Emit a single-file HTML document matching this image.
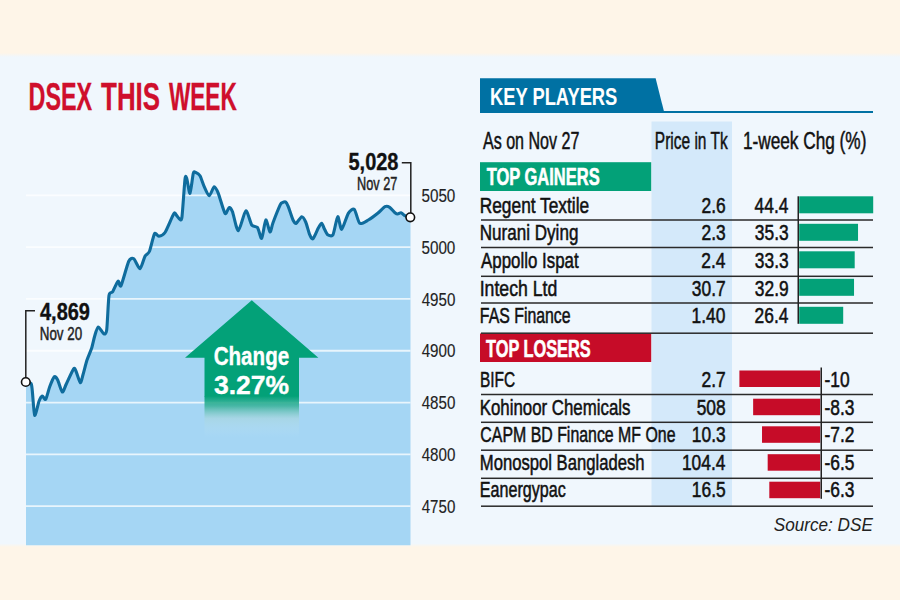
<!DOCTYPE html>
<html><head><meta charset="utf-8"><style>
html,body{margin:0;padding:0;width:900px;height:600px;overflow:hidden;background:#f0f7fd}
svg{display:block}
text{font-family:"Liberation Sans",sans-serif}
</style></head><body>
<svg width="900" height="600" viewBox="0 0 900 600">
<rect x="0" y="0" width="900" height="600" fill="#f0f7fd"/>
<defs><linearGradient id="tb" x1="0" y1="0" x2="0" y2="1"><stop offset="0" stop-color="#fef5e8"/><stop offset="1" stop-color="#f0f7fd"/></linearGradient><linearGradient id="bb" x1="0" y1="0" x2="0" y2="1"><stop offset="0" stop-color="#f0f7fd"/><stop offset="1" stop-color="#fef5e8"/></linearGradient></defs>
<rect x="0" y="0" width="900" height="53" fill="#fef5e8"/>
<rect x="0" y="53" width="900" height="4" fill="url(#tb)"/>
<rect x="0" y="543.5" width="900" height="3.5" fill="url(#bb)"/>
<rect x="0" y="547" width="900" height="53" fill="#fef5e8"/>
<path d="M26,382 C26.60,382.16 30.24,382.26 31,383.3 C31.76,384.34 31.86,386.86 32.3,390.7 C32.74,394.54 33.90,414.03 34.7,415.3 C35.50,416.57 38.09,403.62 39,401.3 C39.91,398.98 41.50,396.24 42.3,396 C43.10,395.76 44.81,400.42 45.7,399.3 C46.59,398.18 48.67,389.41 49.7,386.7 C50.73,383.99 53.34,377.50 54.3,376.7 C55.26,375.90 56.74,378.16 57.7,380 C58.66,381.84 61.27,391.52 62.3,392 C63.33,392.48 64.93,386.80 66.3,384 C67.67,381.20 72.50,370.14 73.7,368.7 C74.90,367.26 75.51,370.32 76.3,372 C77.09,373.68 79.50,382.38 80.3,382.7 C81.10,383.02 82.20,377.42 83,374.7 C83.80,371.98 85.96,363.20 87,360 C88.04,356.80 90.78,350.88 91.7,348 C92.62,345.12 93.92,338.52 94.7,336 C95.48,333.48 97.12,327.28 98.2,327 C99.28,326.72 102.68,333.34 103.7,333.7 C104.72,334.06 106.06,334.58 106.7,330 C107.34,325.42 108.28,300.10 109,295.5 C109.72,290.90 111.62,293.42 112.7,291.7 C113.78,289.98 117.00,281.92 118,281.2 C119.00,280.48 119.71,288.09 121,285.7 C122.29,283.31 127.22,264.48 128.75,261.25 C130.28,258.02 132.40,257.85 133.75,258.75 C135.10,259.65 138.65,269.05 140,268.75 C141.35,268.45 143.86,258.35 145,256.25 C146.14,254.15 148.36,253.95 149.5,251.25 C150.64,248.55 153.39,235.55 154.5,233.75 C155.61,231.95 157.49,236.40 158.75,236.25 C160.01,236.10 163.20,235.20 165,232.5 C166.80,229.80 172.40,215.85 173.75,213.75 C175.10,211.65 175.50,214.31 176.25,215 C177.00,215.69 179.31,219.30 180,219.5 C180.69,219.70 181.40,221.54 182,216.7 C182.60,211.86 184.44,183.81 185,179.2 C185.56,174.59 186.10,176.61 186.7,178.3 C187.30,179.99 189.21,193.90 190,193.3 C190.79,192.70 192.60,175.80 193.3,173.3 C194.00,170.80 195.00,172.20 195.8,172.5 C196.60,172.80 198.99,174.10 200,175.8 C201.01,177.50 203.10,184.30 204.2,186.7 C205.30,189.10 208.00,195.80 209.2,195.8 C210.40,195.80 213.11,187.00 214.2,186.7 C215.29,186.40 217.00,190.11 218.3,193.3 C219.60,196.49 223.69,211.60 225,213.3 C226.31,215.00 228.30,207.69 229.2,207.5 C230.10,207.31 231.41,208.90 232.5,211.7 C233.59,214.50 236.70,230.91 238.3,230.8 C239.90,230.69 244.19,211.50 245.8,210.8 C247.41,210.10 250.30,223.00 251.7,225 C253.10,227.00 256.30,225.90 257.5,227.5 C258.70,229.10 260.70,239.20 261.7,238.3 C262.70,237.40 264.80,220.76 265.8,220 C266.80,219.24 269.14,231.68 270,232 C270.86,232.32 271.76,225.98 273,222.7 C274.24,219.42 279.18,207.10 280.3,204.7 C281.42,202.30 281.65,203.02 282.3,202.7 C282.95,202.38 284.98,201.52 285.7,202 C286.42,202.48 287.42,204.54 288.3,206.7 C289.18,208.86 292.04,218.01 293,220 C293.96,221.99 295.26,223.70 296.3,223.3 C297.34,222.90 300.57,216.86 301.7,216.7 C302.83,216.54 304.74,219.84 305.7,222 C306.66,224.16 308.82,232.70 309.7,234.7 C310.58,236.70 311.97,239.50 313,238.7 C314.03,237.90 317.26,229.85 318.3,228 C319.34,226.15 320.98,223.22 321.7,223.3 C322.42,223.38 323.58,227.33 324.3,228.7 C325.02,230.07 326.66,233.98 327.7,234.7 C328.74,235.42 331.80,236.86 333,234.7 C334.20,232.54 336.66,217.35 337.7,216.7 C338.74,216.05 340.43,229.71 341.7,229.3 C342.97,228.89 346.79,215.70 348.3,213.3 C349.81,210.90 352.93,208.10 354.3,209.3 C355.67,210.50 358.02,222.02 359.7,223.3 C361.38,224.58 366.14,221.20 368.3,220 C370.46,218.80 375.70,214.90 377.7,213.3 C379.70,211.70 383.56,207.42 385,206.7 C386.44,205.98 388.50,206.58 389.7,207.3 C390.90,208.02 394.04,211.90 395,212.7 C395.96,213.50 396.98,214.00 397.7,214 C398.42,214.00 400.21,212.54 401,212.7 C401.79,212.86 403.22,214.75 404.3,215.3 C405.38,215.85 409.32,217.06 410,217.3 L410.5,217.3 L410.5,545.3 L26,545.3 L26,382 Z" fill="#a5d6f4"/>
<line x1="26" y1="195.30" x2="410.5" y2="195.30" stroke="#ffffff" stroke-opacity="0.75" stroke-width="1.8"/>
<line x1="26" y1="247.12" x2="410.5" y2="247.12" stroke="#ffffff" stroke-opacity="0.75" stroke-width="1.8"/>
<line x1="26" y1="298.94" x2="410.5" y2="298.94" stroke="#ffffff" stroke-opacity="0.75" stroke-width="1.8"/>
<line x1="26" y1="350.76" x2="410.5" y2="350.76" stroke="#ffffff" stroke-opacity="0.75" stroke-width="1.8"/>
<line x1="26" y1="402.58" x2="410.5" y2="402.58" stroke="#ffffff" stroke-opacity="0.75" stroke-width="1.8"/>
<line x1="26" y1="454.40" x2="410.5" y2="454.40" stroke="#ffffff" stroke-opacity="0.75" stroke-width="1.8"/>
<line x1="26" y1="506.22" x2="410.5" y2="506.22" stroke="#ffffff" stroke-opacity="0.75" stroke-width="1.8"/>
<defs><linearGradient id="ag" gradientUnits="userSpaceOnUse" x1="0" y1="396" x2="0" y2="437"><stop offset="0" stop-color="#03a178"/><stop offset="0.25" stop-color="#33b094" stop-opacity="0.8"/><stop offset="0.55" stop-color="#a9d6d8" stop-opacity="0.5"/><stop offset="1" stop-color="#c4e6f8" stop-opacity="0"/></linearGradient></defs>
<polygon points="251.8,300.3 318.4,357.7 299,357.7 299,396.5 204.5,396.5 204.5,357.7 185,357.7" fill="#03a178"/>
<rect x="204.5" y="396" width="94.5" height="41" fill="url(#ag)"/>
<path d="M26,382 C26.60,382.16 30.24,382.26 31,383.3 C31.76,384.34 31.86,386.86 32.3,390.7 C32.74,394.54 33.90,414.03 34.7,415.3 C35.50,416.57 38.09,403.62 39,401.3 C39.91,398.98 41.50,396.24 42.3,396 C43.10,395.76 44.81,400.42 45.7,399.3 C46.59,398.18 48.67,389.41 49.7,386.7 C50.73,383.99 53.34,377.50 54.3,376.7 C55.26,375.90 56.74,378.16 57.7,380 C58.66,381.84 61.27,391.52 62.3,392 C63.33,392.48 64.93,386.80 66.3,384 C67.67,381.20 72.50,370.14 73.7,368.7 C74.90,367.26 75.51,370.32 76.3,372 C77.09,373.68 79.50,382.38 80.3,382.7 C81.10,383.02 82.20,377.42 83,374.7 C83.80,371.98 85.96,363.20 87,360 C88.04,356.80 90.78,350.88 91.7,348 C92.62,345.12 93.92,338.52 94.7,336 C95.48,333.48 97.12,327.28 98.2,327 C99.28,326.72 102.68,333.34 103.7,333.7 C104.72,334.06 106.06,334.58 106.7,330 C107.34,325.42 108.28,300.10 109,295.5 C109.72,290.90 111.62,293.42 112.7,291.7 C113.78,289.98 117.00,281.92 118,281.2 C119.00,280.48 119.71,288.09 121,285.7 C122.29,283.31 127.22,264.48 128.75,261.25 C130.28,258.02 132.40,257.85 133.75,258.75 C135.10,259.65 138.65,269.05 140,268.75 C141.35,268.45 143.86,258.35 145,256.25 C146.14,254.15 148.36,253.95 149.5,251.25 C150.64,248.55 153.39,235.55 154.5,233.75 C155.61,231.95 157.49,236.40 158.75,236.25 C160.01,236.10 163.20,235.20 165,232.5 C166.80,229.80 172.40,215.85 173.75,213.75 C175.10,211.65 175.50,214.31 176.25,215 C177.00,215.69 179.31,219.30 180,219.5 C180.69,219.70 181.40,221.54 182,216.7 C182.60,211.86 184.44,183.81 185,179.2 C185.56,174.59 186.10,176.61 186.7,178.3 C187.30,179.99 189.21,193.90 190,193.3 C190.79,192.70 192.60,175.80 193.3,173.3 C194.00,170.80 195.00,172.20 195.8,172.5 C196.60,172.80 198.99,174.10 200,175.8 C201.01,177.50 203.10,184.30 204.2,186.7 C205.30,189.10 208.00,195.80 209.2,195.8 C210.40,195.80 213.11,187.00 214.2,186.7 C215.29,186.40 217.00,190.11 218.3,193.3 C219.60,196.49 223.69,211.60 225,213.3 C226.31,215.00 228.30,207.69 229.2,207.5 C230.10,207.31 231.41,208.90 232.5,211.7 C233.59,214.50 236.70,230.91 238.3,230.8 C239.90,230.69 244.19,211.50 245.8,210.8 C247.41,210.10 250.30,223.00 251.7,225 C253.10,227.00 256.30,225.90 257.5,227.5 C258.70,229.10 260.70,239.20 261.7,238.3 C262.70,237.40 264.80,220.76 265.8,220 C266.80,219.24 269.14,231.68 270,232 C270.86,232.32 271.76,225.98 273,222.7 C274.24,219.42 279.18,207.10 280.3,204.7 C281.42,202.30 281.65,203.02 282.3,202.7 C282.95,202.38 284.98,201.52 285.7,202 C286.42,202.48 287.42,204.54 288.3,206.7 C289.18,208.86 292.04,218.01 293,220 C293.96,221.99 295.26,223.70 296.3,223.3 C297.34,222.90 300.57,216.86 301.7,216.7 C302.83,216.54 304.74,219.84 305.7,222 C306.66,224.16 308.82,232.70 309.7,234.7 C310.58,236.70 311.97,239.50 313,238.7 C314.03,237.90 317.26,229.85 318.3,228 C319.34,226.15 320.98,223.22 321.7,223.3 C322.42,223.38 323.58,227.33 324.3,228.7 C325.02,230.07 326.66,233.98 327.7,234.7 C328.74,235.42 331.80,236.86 333,234.7 C334.20,232.54 336.66,217.35 337.7,216.7 C338.74,216.05 340.43,229.71 341.7,229.3 C342.97,228.89 346.79,215.70 348.3,213.3 C349.81,210.90 352.93,208.10 354.3,209.3 C355.67,210.50 358.02,222.02 359.7,223.3 C361.38,224.58 366.14,221.20 368.3,220 C370.46,218.80 375.70,214.90 377.7,213.3 C379.70,211.70 383.56,207.42 385,206.7 C386.44,205.98 388.50,206.58 389.7,207.3 C390.90,208.02 394.04,211.90 395,212.7 C395.96,213.50 396.98,214.00 397.7,214 C398.42,214.00 400.21,212.54 401,212.7 C401.79,212.86 403.22,214.75 404.3,215.3 C405.38,215.85 409.32,217.06 410,217.3" fill="none" stroke="#0f6c9d" stroke-width="3.1" stroke-linejoin="round" stroke-linecap="round"/>
<polyline points="401.8,162.8 410.8,162.8 410.8,213" fill="none" stroke="#222" stroke-width="1.5"/>
<polyline points="35,310.8 25.8,310.8 25.8,378" fill="none" stroke="#222" stroke-width="1.5"/>
<circle cx="410.3" cy="217.3" r="4.3" fill="#fff" stroke="#111" stroke-width="1.6"/>
<circle cx="25.8" cy="382" r="4.3" fill="#fff" stroke="#111" stroke-width="1.6"/>
<polygon points="480,78.3 655.6,78.3 664,111.5 480,111.5" fill="#0071a3"/>
<rect x="480" y="111" width="393" height="2" fill="#0071a3"/>
<defs><linearGradient id="pc" x1="0" y1="0" x2="1" y2="0"><stop offset="0" stop-color="#d3e8f8"/><stop offset="1" stop-color="#d3e8f8"/></linearGradient></defs>
<rect x="651.5" y="121.5" width="80.5" height="385" fill="#d4e9fa"/>
<rect x="480" y="162.2" width="171.2" height="28.8" fill="#03a178"/>
<rect x="480" y="333.5" width="171.2" height="28.5" fill="#c60c28"/>
<rect x="481" y="219.25" width="392" height="1.5" fill="#2a2a2a"/>
<rect x="481" y="246.75" width="392" height="1.5" fill="#2a2a2a"/>
<rect x="481" y="275.55" width="392" height="1.5" fill="#2a2a2a"/>
<rect x="481" y="302.25" width="392" height="1.5" fill="#2a2a2a"/>
<rect x="481" y="332.45" width="392" height="1.5" fill="#2a2a2a"/>
<rect x="481" y="393.75" width="392" height="1.5" fill="#2a2a2a"/>
<rect x="481" y="421.55" width="392" height="1.5" fill="#2a2a2a"/>
<rect x="481" y="449.45" width="392" height="1.5" fill="#2a2a2a"/>
<rect x="481" y="477.55" width="392" height="1.5" fill="#2a2a2a"/>
<rect x="481" y="505.45" width="392" height="1.5" fill="#2a2a2a"/>
<rect x="799.2" y="196.3" width="74.00" height="17" fill="#03a178"/>
<rect x="799.2" y="223.8" width="58.83" height="17" fill="#03a178"/>
<rect x="799.2" y="251.3" width="55.50" height="17" fill="#03a178"/>
<rect x="799.2" y="278.8" width="54.83" height="17" fill="#03a178"/>
<rect x="799.2" y="306.8" width="44.00" height="17" fill="#03a178"/>
<rect x="797.5" y="196.3" width="1.5" height="127.5" fill="#222"/>
<rect x="739.40" y="370.5" width="80.80" height="16.5" fill="#c60c28"/>
<rect x="753.14" y="398.7" width="67.06" height="16.5" fill="#c60c28"/>
<rect x="762.02" y="426.3" width="58.18" height="16.5" fill="#c60c28"/>
<rect x="767.68" y="454.2" width="52.52" height="16.5" fill="#c60c28"/>
<rect x="769.30" y="481.7" width="50.90" height="16.5" fill="#c60c28"/>
<rect x="820.5" y="367.5" width="1.5" height="131.3" fill="#222"/>
<text transform="translate(28.54 110.00) scale(0.6145 1)" font-size="37.97" fill="#cf0f2c" font-weight="bold" stroke="#cf0f2c" stroke-width="0.35">DSEX</text>
<text transform="translate(101.10 110.00) scale(0.6819 1)" font-size="37.97" fill="#cf0f2c" font-weight="bold" stroke="#cf0f2c" stroke-width="0.35">THIS</text>
<text transform="translate(168.90 110.00) scale(0.5958 1)" font-size="37.97" fill="#cf0f2c" font-weight="bold" stroke="#cf0f2c" stroke-width="0.35">WEEK</text>
<text transform="translate(348.49 170.30) scale(0.8364 1)" font-size="23.89" fill="#111" font-weight="bold" stroke="#111" stroke-width="0.35">5,028</text>
<text transform="translate(357.01 190.00) scale(0.6626 1)" font-size="19.20" fill="#222"  stroke="#222" stroke-width="0.5">Nov 27</text>
<text transform="translate(40.00 320.30) scale(0.8362 1)" font-size="23.89" fill="#111" font-weight="bold" stroke="#111" stroke-width="0.35">4,869</text>
<text transform="translate(39.76 340.00) scale(0.7124 1)" font-size="18.77" fill="#222"  stroke="#222" stroke-width="0.5">Nov 20</text>
<text transform="translate(421.42 202.00) scale(0.8009 1)" font-size="19.06" fill="#222"  stroke="#222" stroke-width="0.15">5050</text>
<text transform="translate(421.42 253.82) scale(0.8009 1)" font-size="19.06" fill="#222"  stroke="#222" stroke-width="0.15">5000</text>
<text transform="translate(421.66 305.64) scale(0.7952 1)" font-size="19.06" fill="#222"  stroke="#222" stroke-width="0.15">4950</text>
<text transform="translate(421.66 357.46) scale(0.7952 1)" font-size="19.06" fill="#222"  stroke="#222" stroke-width="0.15">4900</text>
<text transform="translate(421.66 409.28) scale(0.7952 1)" font-size="19.06" fill="#222"  stroke="#222" stroke-width="0.15">4850</text>
<text transform="translate(421.66 461.10) scale(0.7952 1)" font-size="19.06" fill="#222"  stroke="#222" stroke-width="0.15">4800</text>
<text transform="translate(421.66 512.92) scale(0.7952 1)" font-size="19.06" fill="#222"  stroke="#222" stroke-width="0.15">4750</text>
<text transform="translate(213.66 365.40) scale(0.8004 1)" font-size="25.74" fill="#fff" font-weight="bold" stroke="#fff" stroke-width="0.35">Change</text>
<text transform="translate(213.89 394.10) scale(1.0594 1)" font-size="25.03" fill="#fff" font-weight="bold" stroke="#fff" stroke-width="0.35">3.27%</text>
<text transform="translate(489.95 104.50) scale(0.7459 1)" font-size="24.60" fill="#fff" font-weight="bold" stroke="#fff" stroke-width="0.05">KEY PLAYERS</text>
<text transform="translate(482.90 148.80) scale(0.6819 1)" font-size="23.61" fill="#111"  stroke="#111" stroke-width="0.5">As on Nov 27</text>
<text transform="translate(654.79 148.80) scale(0.6454 1)" font-size="24.04" fill="#111"  stroke="#111" stroke-width="0.5">Price in Tk</text>
<text transform="translate(742.92 148.80) scale(0.7257 1)" font-size="23.75" fill="#111"  stroke="#111" stroke-width="0.5">1-week Chg (%)</text>
<text transform="translate(486.70 185.00) scale(0.7159 1)" font-size="23.04" fill="#fff" font-weight="bold" stroke="#fff" stroke-width="0.6">TOP GAINERS</text>
<text transform="translate(486.00 356.70) scale(0.6799 1)" font-size="24.04" fill="#fff" font-weight="bold" stroke="#fff" stroke-width="0.6">TOP LOSERS</text>
<text transform="translate(773.73 530.60) scale(0.9356 1)" font-size="18.35" fill="#222" font-style="italic" >Source: DSE</text>
<text transform="translate(479.75 212.80) scale(0.7708 1)" font-size="22.47" fill="#111"  stroke="#111" stroke-width="0.55">Regent Textile</text>
<text transform="translate(701.53 212.80) scale(0.7739 1)" font-size="22.47" fill="#111"  stroke="#111" stroke-width="0.55">2.6</text>
<text transform="translate(754.59 212.80) scale(0.7739 1)" font-size="22.47" fill="#111"  stroke="#111" stroke-width="0.55">44.4</text>
<text transform="translate(479.77 240.30) scale(0.7598 1)" font-size="22.47" fill="#111"  stroke="#111" stroke-width="0.55">Nurani Dying</text>
<text transform="translate(701.53 240.30) scale(0.7739 1)" font-size="22.47" fill="#111"  stroke="#111" stroke-width="0.55">2.3</text>
<text transform="translate(754.86 240.30) scale(0.7739 1)" font-size="22.47" fill="#111"  stroke="#111" stroke-width="0.55">35.3</text>
<text transform="translate(481.10 267.80) scale(0.7508 1)" font-size="22.47" fill="#111"  stroke="#111" stroke-width="0.55">Appollo Ispat</text>
<text transform="translate(701.26 267.80) scale(0.7739 1)" font-size="22.47" fill="#111"  stroke="#111" stroke-width="0.55">2.4</text>
<text transform="translate(754.86 267.80) scale(0.7739 1)" font-size="22.47" fill="#111"  stroke="#111" stroke-width="0.55">33.3</text>
<text transform="translate(479.72 295.50) scale(0.7860 1)" font-size="22.47" fill="#111"  stroke="#111" stroke-width="0.55">Intech Ltd</text>
<text transform="translate(691.86 295.50) scale(0.7739 1)" font-size="22.47" fill="#111"  stroke="#111" stroke-width="0.55">30.7</text>
<text transform="translate(754.86 295.50) scale(0.7739 1)" font-size="22.47" fill="#111"  stroke="#111" stroke-width="0.55">32.9</text>
<text transform="translate(479.86 323.00) scale(0.7057 1)" font-size="22.47" fill="#111"  stroke="#111" stroke-width="0.55">FAS Finance</text>
<text transform="translate(691.59 323.00) scale(0.7739 1)" font-size="22.47" fill="#111"  stroke="#111" stroke-width="0.55">1.40</text>
<text transform="translate(754.59 323.00) scale(0.7739 1)" font-size="22.47" fill="#111"  stroke="#111" stroke-width="0.55">26.4</text>
<text transform="translate(479.89 386.70) scale(0.6865 1)" font-size="22.47" fill="#111"  stroke="#111" stroke-width="0.55">BIFC</text>
<text transform="translate(701.53 386.70) scale(0.7739 1)" font-size="22.47" fill="#111"  stroke="#111" stroke-width="0.55">2.7</text>
<text transform="translate(824.46 386.70) scale(0.7739 1)" font-size="22.47" fill="#111"  stroke="#111" stroke-width="0.55">-10</text>
<text transform="translate(479.78 414.80) scale(0.7496 1)" font-size="22.47" fill="#111"  stroke="#111" stroke-width="0.55">Kohinoor Chemicals</text>
<text transform="translate(696.69 414.80) scale(0.7739 1)" font-size="22.47" fill="#111"  stroke="#111" stroke-width="0.55">508</text>
<text transform="translate(824.46 414.80) scale(0.7739 1)" font-size="22.47" fill="#111"  stroke="#111" stroke-width="0.55">-8.3</text>
<text transform="translate(480.35 442.00) scale(0.7076 1)" font-size="22.47" fill="#111"  stroke="#111" stroke-width="0.55">CAPM BD Finance MF One</text>
<text transform="translate(691.86 442.00) scale(0.7739 1)" font-size="22.47" fill="#111"  stroke="#111" stroke-width="0.55">10.3</text>
<text transform="translate(824.46 442.00) scale(0.7739 1)" font-size="22.47" fill="#111"  stroke="#111" stroke-width="0.55">-7.2</text>
<text transform="translate(479.80 469.60) scale(0.7413 1)" font-size="22.47" fill="#111"  stroke="#111" stroke-width="0.55">Monospol Bangladesh</text>
<text transform="translate(681.91 469.60) scale(0.7739 1)" font-size="22.47" fill="#111"  stroke="#111" stroke-width="0.55">104.4</text>
<text transform="translate(824.46 469.60) scale(0.7739 1)" font-size="22.47" fill="#111"  stroke="#111" stroke-width="0.55">-6.5</text>
<text transform="translate(479.84 497.40) scale(0.7163 1)" font-size="22.47" fill="#111"  stroke="#111" stroke-width="0.55">Eanergypac</text>
<text transform="translate(691.86 497.40) scale(0.7739 1)" font-size="22.47" fill="#111"  stroke="#111" stroke-width="0.55">16.5</text>
<text transform="translate(824.46 497.40) scale(0.7739 1)" font-size="22.47" fill="#111"  stroke="#111" stroke-width="0.55">-6.3</text>
</svg>
</body></html>
